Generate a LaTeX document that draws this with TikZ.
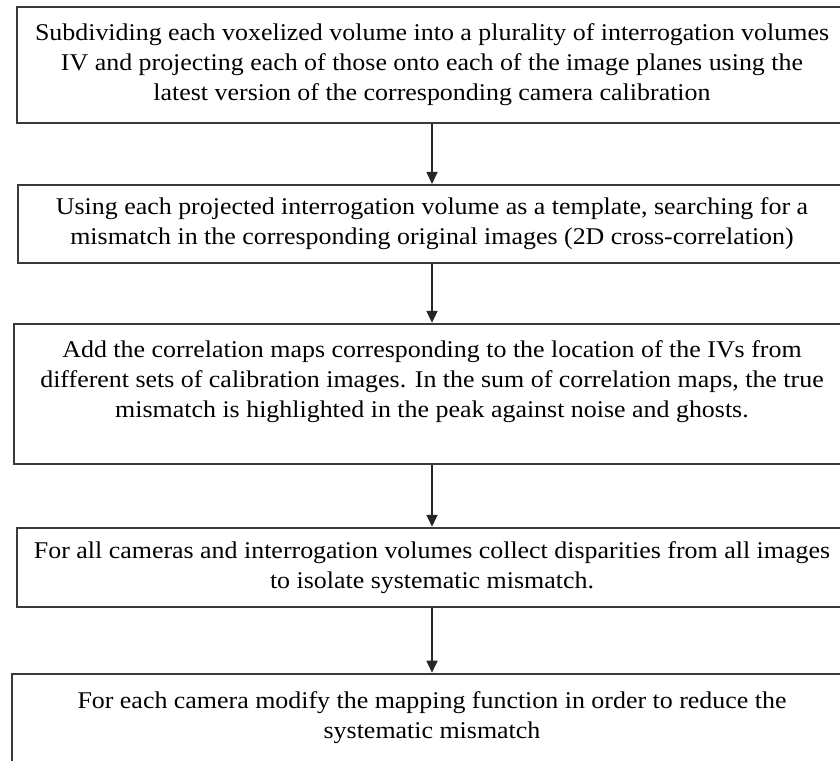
\documentclass[tikz,border=0pt]{standalone}
\usepackage{fontspec}
\setmainfont[FakeStretch=1.08]{Liberation Serif}
\usepackage{tikz}
\usetikzlibrary{positioning,arrows.meta}
\definecolor{BoxGray}{RGB}{58,58,58}

\begin{document}
\begin{tikzpicture}[
        x=1pt, y=1pt,
        % --- STYLE CHUNG ---
        stepbox/.style={
            rectangle,
            draw=BoxGray,
            line width=1.9pt,
            align=center,
            inner sep=0pt,
            font=\fontsize{24}{30}\selectfont
        },
        % Mũi tên nối
        flow/.style={
            draw=black!85,
            line width=1.8pt,
            -{Triangle[length=12pt,width=11pt]}
        }
    ]

        % --- KHUNG ẢNH ---
        \useasboundingbox (0,0) rectangle (840,-760);

        % --- CÁC BƯỚC ---
        \node[stepbox, minimum width=830pt, minimum height=116pt] (subdiv) at (432,-65)
            {Subdividing each voxelized volume into a plurality of interrogation volumes\\
             IV and projecting each of those onto each of the image planes using the\\
             latest version of the corresponding camera calibration};

        \node[stepbox, minimum width=828pt, minimum height=78pt, below=60pt of subdiv] (search)
            {Using each projected interrogation volume as a template, searching for a\\
             mismatch in the corresponding original images (2D cross-correlation)};

        \node[stepbox, minimum width=836pt, minimum height=140pt, below=59pt of search] (addmaps)
            {Add the correlation maps corresponding to the location of the IVs from\\
             different sets of calibration images. In the sum of correlation maps, the true\\
             mismatch is highlighted in the peak against noise and ghosts.\\ ~};

        \node[stepbox, minimum width=830pt, minimum height=79pt, below=62pt of addmaps] (collect)
            {For all cameras and interrogation volumes collect disparities from all images\\
             to isolate systematic mismatch.};

        \node[stepbox, minimum width=840pt, minimum height=112pt, below=65pt of collect] (modify)
            {For each camera modify the mapping function in order to reduce the\\
             systematic mismatch\\ ~};

        % --- MŨI TÊN ---
        \draw[flow] (subdiv) -- (search);
        \draw[flow] (search) -- (addmaps);
        \draw[flow] (addmaps) -- (collect);
        \draw[flow] (collect) -- (modify);

    \end{tikzpicture}
\end{document}
